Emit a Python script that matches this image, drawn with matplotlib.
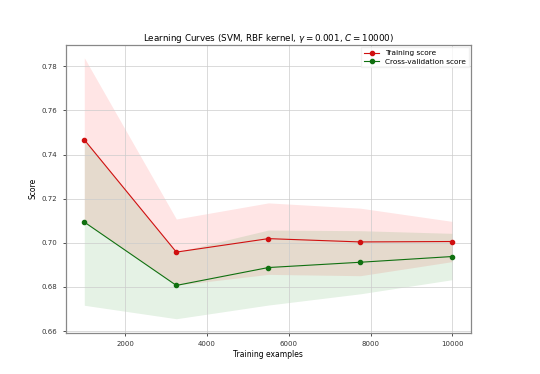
import numpy as np
import matplotlib
matplotlib.use("Agg")
import matplotlib.pyplot as plt

# learning curve data
train_sizes = [1000, 3250, 5500, 7750, 10000]
train_mean = [0.7467, 0.6958, 0.7019, 0.7004, 0.7006]
train_std = [0.0372, 0.0150, 0.0162, 0.0153, 0.0091]
test_mean = [0.7094, 0.6807, 0.6888, 0.6912, 0.6938]
test_std = [0.0377, 0.0151, 0.0170, 0.0143, 0.0105]

train_sizes = np.array(train_sizes)
train_mean = np.array(train_mean)
train_std = np.array(train_std)
test_mean = np.array(test_mean)
test_std = np.array(test_std)

plt.rcParams['font.size'] = 5
fig = plt.figure(figsize=(5.4, 3.74), dpi=100)
ax = fig.add_axes([0.122, 0.110, 0.750, 0.770])

ax.fill_between(train_sizes, train_mean - train_std, train_mean + train_std,
                alpha=0.1, color="r", linewidth=0)
ax.fill_between(train_sizes, test_mean - test_std, test_mean + test_std,
                alpha=0.1, color="g", linewidth=0)
ax.plot(train_sizes, train_mean, 'o-', color="#d01010", label="Training score",
        markersize=3, linewidth=0.8)
ax.plot(train_sizes, test_mean, 'o-', color="#107010", label="Cross-validation score",
        markersize=3, linewidth=0.8)

ax.grid(True, color="#cccccc", linewidth=0.5)
ax.set_ylim(0.6592, 0.7897)
ax.set_yticks([0.66, 0.68, 0.70, 0.72, 0.74, 0.76, 0.78])
ax.set_xticks([2000, 4000, 6000, 8000, 10000])
ax.tick_params(labelsize=5, length=2.5, width=0.6, colors="#333333")
for s in ax.spines.values():
    s.set_color("#888888")
    s.set_linewidth(0.9)

ax.set_title(r"Learning Curves (SVM, RBF kernel, $\gamma=0.001$, $C=10000$)",
             fontsize=6.3, pad=3)
ax.set_xlabel("Training examples", fontsize=5.5, labelpad=2)
ax.set_ylabel("Score", fontsize=5.5, labelpad=3)
ax.legend(loc="upper right", fontsize=5.3, handlelength=2.0, borderpad=0.4,
          labelspacing=0.3, fancybox=False, framealpha=0.8, edgecolor="#eeeeee",
          borderaxespad=0.3)

fig.savefig("out.png", dpi=100)
